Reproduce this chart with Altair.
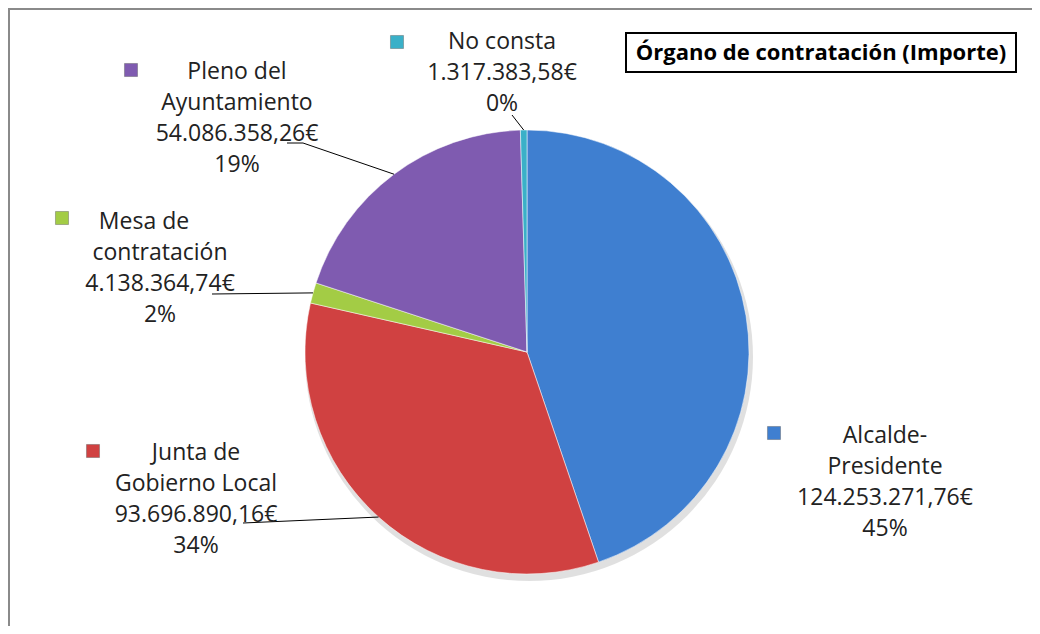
import math
import altair as alt
import pandas as pd

# ---------------- data ----------------
categories = ["Alcalde-Presidente", "Junta de Gobierno Local", "Mesa de contratación",
              "Pleno del Ayuntamiento", "No consta"]
importes = [124253271.76, 93696890.16, 4138364.74, 54086358.26, 1317383.58]
importe_labels = ["124.253.271,76€", "93.696.890,16€", "4.138.364,74€",
                  "54.086.358,26€", "1.317.383,58€"]
pct_labels = ["45%", "34%", "2%", "19%", "0%"]
name_lines = [["Alcalde-", "Presidente"], ["Junta de", "Gobierno Local"],
              ["Mesa de", "contratación"], ["Pleno del", "Ayuntamiento"], ["No consta"]]
colors = ["#3F7FD0", "#D04141", "#A3CC45", "#7F5BB0", "#3AB0C8"]
title_text = "Órgano de contratación (Importe)"

# ---------------- layout (page pixels) ----------------
OFF = 8
W, H = 1024, 618
CX, CY, R = 527, 352, 222
LINE_H = 31
FONT = "Open Sans"
label_anchor = [(885, 436), (196, 453), (160, 222), (237, 72), (502, 42)]
first_line_dx = [0, 0, -16, 0, 0]
marker_pos = [(774, 433), (93, 451), (62, 218), (131, 70), (397, 42)]
leader_start = [[], [(243, 523)], [(212, 294)], [(287, 143), (303, 143)], [(512, 115)]]
title_box = (626, 33, 1016, 72)

# ---------------- tables ----------------
pie_df = pd.DataFrame({"cat": categories, "value": importes, "order": range(len(categories))})

total = sum(importes)
cum = 0.0
leader_rows = []
for i, v in enumerate(importes):
    mid = (cum + v / 2) / total
    cum += v
    if not leader_start[i]:
        continue
    a = 2 * math.pi * mid
    ex = CX + R * math.sin(a)
    ey = CY - R * math.cos(a)
    pts = leader_start[i] + [(ex, ey)]
    for s, (px, py) in enumerate(pts):
        leader_rows.append({"lid": i, "seq": s, "x": px - OFF, "y": py - OFF})
leader_df = pd.DataFrame(leader_rows)

text_rows = []
for i in range(len(categories)):
    lines = name_lines[i] + [importe_labels[i], pct_labels[i]]
    ax, ay = label_anchor[i]
    for k, t in enumerate(lines):
        dx = first_line_dx[i] if k == 0 else 0
        text_rows.append({"t": t, "x": ax + dx - OFF, "y": ay - OFF + k * LINE_H})
text_df = pd.DataFrame(text_rows)

marker_df = pd.DataFrame({"cat": categories,
                          "x": [p[0] - OFF for p in marker_pos],
                          "y": [p[1] - OFF for p in marker_pos]})

title_df = pd.DataFrame({"t": [title_text],
                         "x1": [title_box[0] - OFF], "y1": [title_box[1] - OFF],
                         "x2": [title_box[2] - OFF], "y2": [title_box[3] - OFF],
                         "xc": [(title_box[0] + title_box[2]) / 2 - OFF],
                         "yc": [(title_box[1] + title_box[3]) / 2 - OFF]})

color_scale = alt.Scale(domain=categories, range=colors)
X = lambda f: alt.X(f, scale=None, axis=None)
Y = lambda f: alt.Y(f, scale=None, axis=None)

border_left = alt.Chart(pie_df).mark_rule(color="#8a8a8a", strokeWidth=2).encode(
    x=alt.value(1), y=alt.value(0), y2=alt.value(H))
border_top = alt.Chart(pie_df).mark_rule(color="#8a8a8a", strokeWidth=2).encode(
    x=alt.value(0), x2=alt.value(W), y=alt.value(1))

shadow = alt.Chart(pd.DataFrame({"a": [0]})).mark_arc(
    theta=0, theta2=2 * math.pi, outerRadius=R + 2, color="#000000", opacity=0.12
).encode(x=alt.value(CX - OFF + 2), y=alt.value(CY - OFF + 5))

pie = alt.Chart(pie_df).mark_arc(outerRadius=R, stroke="#ffffff", strokeWidth=1,
                                 strokeOpacity=0.5).encode(
    theta=alt.Theta("value:Q", stack=True),
    color=alt.Color("cat:N", scale=color_scale, legend=None),
    order=alt.Order("order:Q"),
    x=alt.value(CX - OFF), y=alt.value(CY - OFF))

leaders = alt.Chart(leader_df).mark_line(color="#000000", strokeWidth=1).encode(
    x=X("x:Q"), y=Y("y:Q"), detail="lid:N", order="seq:Q")

labels = alt.Chart(text_df).mark_text(font=FONT, fontSize=23, color="#222222",
                                      align="center", baseline="middle").encode(
    x=X("x:Q"), y=Y("y:Q"), text="t:N")

markers = alt.Chart(marker_df).mark_square(size=170, opacity=1, strokeWidth=0.8,
                                           stroke="#555555", strokeOpacity=0.5).encode(
    x=X("x:Q"), y=Y("y:Q"),
    color=alt.Color("cat:N", scale=color_scale, legend=None))

tbox = alt.Chart(title_df).mark_rect(fill="#ffffff", stroke="#000000", strokeWidth=2).encode(
    x=X("x1:Q"), x2="x2:Q", y=Y("y1:Q"), y2="y2:Q")
ttext = alt.Chart(title_df).mark_text(font=FONT, fontSize=22, fontWeight="bold",
                                      color="#000000", align="center",
                                      baseline="middle").encode(
    x=X("xc:Q"), y=Y("yc:Q"), text="t:N")

chart = alt.layer(border_left, border_top, shadow, pie, leaders, markers, labels,
                  tbox, ttext).properties(
    width=W, height=H, padding=0, autosize="none", background="#ffffff"
).configure_view(stroke=None)

chart.save("out.html", embed_options={"renderer": "svg", "actions": False})
